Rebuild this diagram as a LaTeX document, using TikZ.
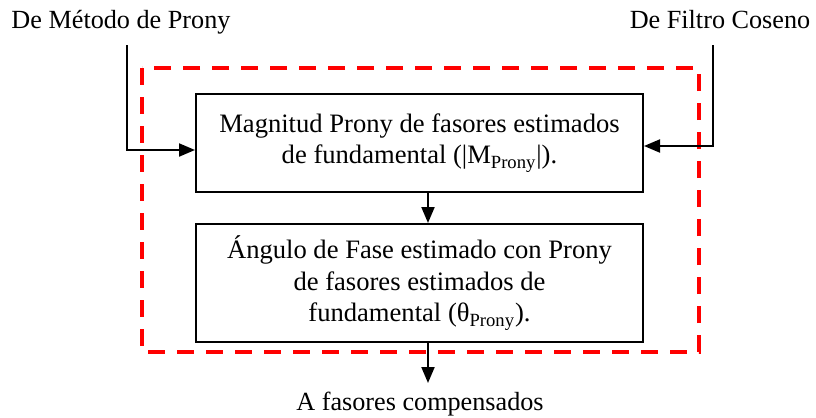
\documentclass[tikz,border=0pt]{standalone}
\usepackage{fontspec}
\setmainfont{Liberation Serif}
\usepackage{tikz}
\usetikzlibrary{arrows.meta,positioning}
\definecolor{framered}{HTML}{FF0000}

\begin{document}
\begin{tikzpicture}[x=0.5pt,y=-0.5pt,
  box/.style={rectangle,draw=black,line width=1pt,fill=white,
    font=\fontsize{13.3}{15.8}\selectfont,align=center,inner sep=0pt,minimum width=223.5pt},
  lbl/.style={font=\fontsize{13.1}{15.8}\selectfont,inner sep=0pt},
  arr/.style={-{Triangle[length=8pt,width=6.5pt]},line width=1pt,color=black},
  frame/.style={draw=framered,line width=2pt,dash pattern=on 8.5pt off 6pt}]
  \useasboundingbox (0,0) rectangle (816,418);
  \draw[frame] (142,68) rectangle (699,352);
  \node[box,minimum height=49pt] (mag) at (419.5,143)
    {Magnitud Prony de fasores estimados\\de fundamental (|M\textsubscript{Prony}|).};
  \node[box,minimum height=59pt,below=15pt of mag] (ang)
    {Ángulo de Fase estimado con Prony\\de fasores estimados de\\fundamental (θ\textsubscript{Prony}).};
  \node[lbl,anchor=base] (prony) at (121,28) {De Método de Prony};
  \node[lbl,anchor=base] (coseno) at (720,28) {De Filtro Coseno};
  \node[lbl,anchor=base] (salida) at (420,410) {A fasores compensados};
  \coordinate (inL) at (127,45);
  \coordinate (inR) at (713,45);
  \coordinate (outp) at (428,383);
  \draw[arr] (inL) |- ([yshift=-3.5pt]mag.west);
  \draw[arr] (inR) |- ([yshift=-1.5pt]mag.east);
  \draw[arr] ([xshift=4.25pt]mag.south) -- ([xshift=4.25pt]ang.north);
  \draw[arr] ([xshift=4.25pt]ang.south) -- (outp);
\end{tikzpicture}
\end{document}
